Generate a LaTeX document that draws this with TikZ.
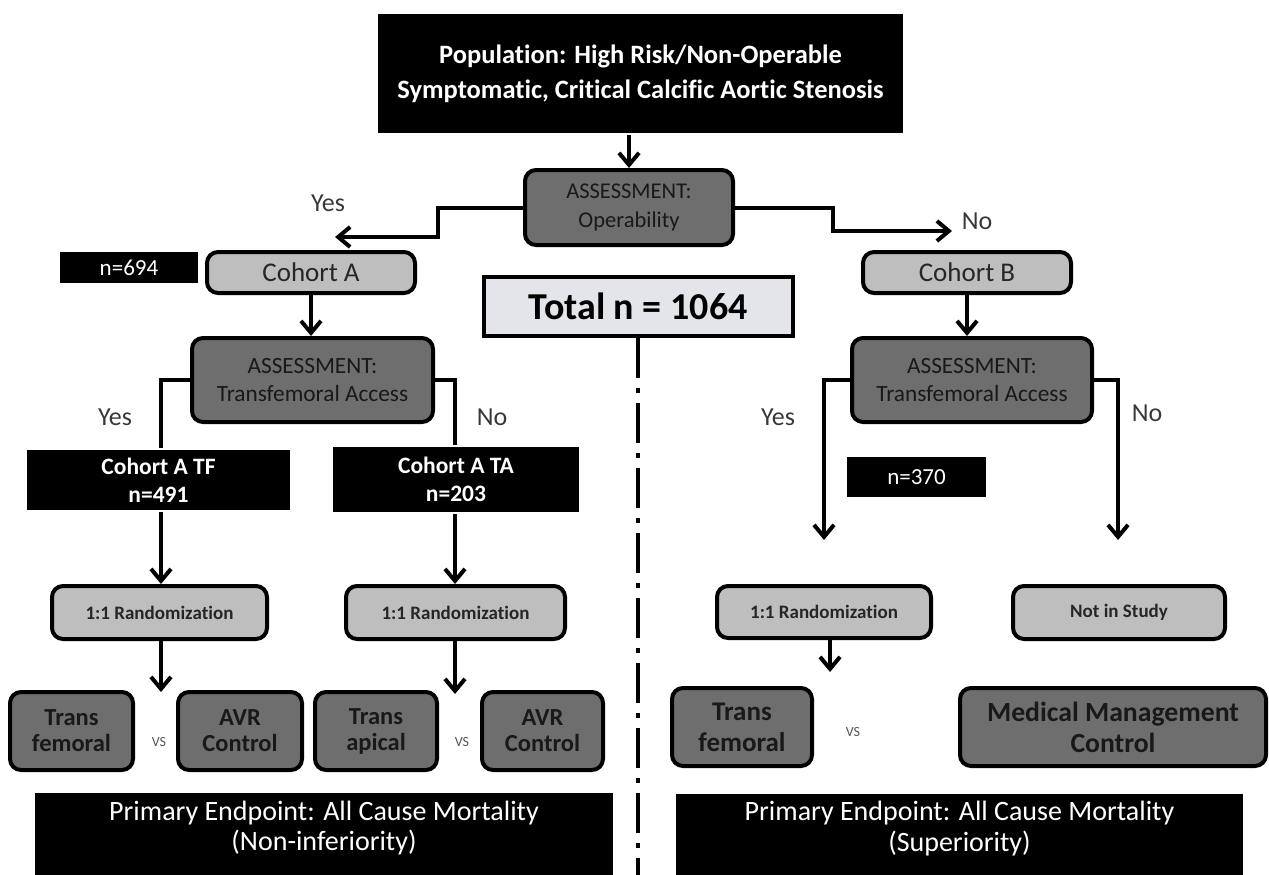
\documentclass[tikz,border=0pt]{standalone}
\usepackage{fontspec}
\setmainfont{Carlito}[Ligatures=NoCommon]
\usetikzlibrary{arrows.meta}

\definecolor{boxdark}{HTML}{6E6E6E}
\definecolor{boxlight}{HTML}{BEBEBE}
\definecolor{boxpale}{HTML}{E3E5EA}
\definecolor{labelgrey}{HTML}{383838}
\definecolor{vsgrey}{HTML}{555555}

\tikzset{
  base/.style={inner sep=0pt, align=center, line width=4pt},
  blackbox/.style={base, fill=black, text=white},
  roundbox/.style={base, draw=black, rounded corners=11pt},
  darkbox/.style={roundbox, fill=boxdark, text=black!90},
  lightbox/.style={roundbox, fill=boxlight, text=black!85},
  conn/.style={line width=4pt, draw=black},
  arr/.style={conn, -{Straight Barb[length=12pt,width=20pt]}},
  answer/.style={inner sep=0pt, text=labelgrey, font=\fontsize{26}{30}\selectfont},
  vslabel/.style={inner sep=0pt, text=vsgrey, font=\fontsize{14}{16}\selectfont},
}

\begin{document}
\begin{tikzpicture}[x=1pt, y=-1pt]
\path[use as bounding box] (0,0) rectangle (1269,875);

% population and first assessment
\node[blackbox, minimum width=525, minimum height=119,
      font=\fontsize{26.5}{35}\selectfont\bfseries] (pop) at (640.5,73.5)
  {Population: High Risk/Non-Operable\\Symptomatic, Critical Calcific Aortic Stenosis};
\node[darkbox, minimum width=208, minimum height=75,
      font=\fontsize{22.5}{29}\selectfont] (op) at (629,207.5) {ASSESSMENT:\\Operability};

\coordinate (opL) at (438,237);
\coordinate (opYes) at (335,237);
\coordinate (opR) at (833,231);
\coordinate (opNo) at (952,231);
\draw[arr] (op.north |- pop.south) -- (op.north);
\draw[arr] (op.west) -| (opL) -- (opYes);
\draw[arr] (op.east) -| (opR) -- (opNo);
\node[answer] (yesTop) at (328,203) {Yes};
\node[answer] (noTop) at (977,221) {No};

% cohorts and total
\node[blackbox, minimum width=138, minimum height=31,
      font=\fontsize{23}{26}\selectfont] (n694) at (129,267.5) {n=694};
\node[lightbox, minimum width=208, minimum height=41,
      font=\fontsize{27}{30}\selectfont] (cohA) at (311,272.5) {Cohort A};
\node[base, draw=black, fill=boxpale, minimum width=309, minimum height=59,
      font=\fontsize{38}{42}\selectfont\bfseries] (total) at (638,306.5) {Total n = 1064};
\node[lightbox, minimum width=208, minimum height=41,
      font=\fontsize{27}{30}\selectfont] (cohB) at (967,272.5) {Cohort B};

% transfemoral access assessments
\node[darkbox, minimum width=241, minimum height=84,
      font=\fontsize{23.3}{28}\selectfont] (asA) at (312.5,380) {ASSESSMENT:\\Transfemoral Access};
\node[darkbox, minimum width=240, minimum height=84,
      font=\fontsize{23.3}{28}\selectfont] (asB) at (972,380) {ASSESSMENT:\\Transfemoral Access};
\draw[arr] (cohA.south) -- (cohA.south |- asA.north);
\draw[arr] (cohB.south) -- (cohB.south |- asB.north);

% cohort A branches
\node[blackbox, minimum width=263, minimum height=60,
      font=\fontsize{23.5}{28}\selectfont\bfseries] (cohATF) at (158.5,480) {Cohort A TF\\n=491};
\node[blackbox, minimum width=246, minimum height=65,
      font=\fontsize{23.5}{28}\selectfont\bfseries] (cohATA) at (456,479.5) {Cohort A TA\\n=203};
\node[answer] (yesA) at (115,417) {Yes};
\node[answer] (noA) at (492,417) {No};

\node[lightbox, minimum width=215, minimum height=53,
      font=\fontsize{19}{22}\selectfont\bfseries] (randA) at (159.5,612.5) {1:1 Randomization};
\node[lightbox, minimum width=219, minimum height=53,
      font=\fontsize{19}{22}\selectfont\bfseries] (randTA) at (455.5,612.5) {1:1 Randomization};

\coordinate (aL) at (161,380);
\coordinate (aR) at (455,380);
\coordinate (aTip) at (161,692);
\coordinate (taTip) at (455,694);
\draw[conn] (asA.west) -- (aL) -- (aL |- cohATF.north);
\draw[conn] (asA.east) -- (aR) -- (aR |- cohATA.north);
\draw[arr] (aL |- cohATF.south) -- (aL |- randA.north);
\draw[arr] (aR |- cohATA.south) -- (aR |- randTA.north);
\draw[arr] (aL |- randA.south) -- (aTip);
\draw[arr] (aR |- randTA.south) -- (taTip);

\node[darkbox, minimum width=123, minimum height=78,
      font=\fontsize{24.5}{26}\selectfont\bfseries] (tfA) at (71.5,731) {Trans\\femoral};
\node[darkbox, minimum width=124, minimum height=78,
      font=\fontsize{24.5}{26}\selectfont\bfseries] (avrA) at (240,731) {AVR\\Control};
\node[darkbox, minimum width=122, minimum height=78,
      font=\fontsize{24.5}{26}\selectfont\bfseries] (taA) at (376,731) {Trans\\apical};
\node[darkbox, minimum width=121, minimum height=78,
      font=\fontsize{24.5}{26}\selectfont\bfseries] (avrTA) at (542.5,731) {AVR\\Control};
\node[vslabel] (vsA) at (159,742) {VS};
\node[vslabel] (vsTA) at (462,742) {VS};

% divider
\draw[line width=4pt, dash pattern=on 40pt off 10pt on 5pt off 10pt]
  (total.south) -- (total.south |- 0,875);

% cohort B branches
\node[blackbox, minimum width=139, minimum height=40,
      font=\fontsize{23}{26}\selectfont] (n370) at (916.5,477) {n=370};
\node[answer] (yesB) at (778,417) {Yes};
\node[answer] (noB) at (1147,413) {No};
\coordinate (bLTip) at (824,540);
\coordinate (bRTip) at (1118,540);
\draw[arr] (asB.west) -| (bLTip);
\draw[arr] (asB.east) -| (bRTip);

\node[lightbox, minimum width=214, minimum height=52,
      font=\fontsize{19}{22}\selectfont\bfseries] (randB) at (824,612) {1:1 Randomization};
\node[lightbox, minimum width=212, minimum height=53,
      font=\fontsize{19}{22}\selectfont\bfseries] (notin) at (1119,612.5) {Not in Study};
\coordinate (bTip) at (830,672);
\draw[arr] (randB.south -| bTip) -- (bTip);

\node[darkbox, minimum width=140, minimum height=78,
      font=\fontsize{27}{31}\selectfont\bfseries] (tfB) at (742,727) {Trans\\femoral};
\node[vslabel] (vsB) at (853,732) {VS};
\node[darkbox, minimum width=306, minimum height=78,
      font=\fontsize{27.7}{31}\selectfont\bfseries] (mmc) at (1113,727) {Medical Management\\Control};

% primary endpoints
\node[blackbox, minimum width=578, minimum height=82] (endA) at (324,834) {};
\node[inner sep=0pt, align=center, text=white,
      font=\fontsize{28}{30}\selectfont] (endAtext) at (endA.center |- 0,828)
  {Primary Endpoint: All Cause Mortality\\(Non-inferiority)};
\node[blackbox, minimum width=567, minimum height=81] (endB) at (959.5,834.5) {};
\node[inner sep=0pt, align=center, text=white,
      font=\fontsize{28}{31}\selectfont] (endBtext) at (endB.center |- 0,829)
  {Primary Endpoint: All Cause Mortality\\(Superiority)};
\end{tikzpicture}
\end{document}
